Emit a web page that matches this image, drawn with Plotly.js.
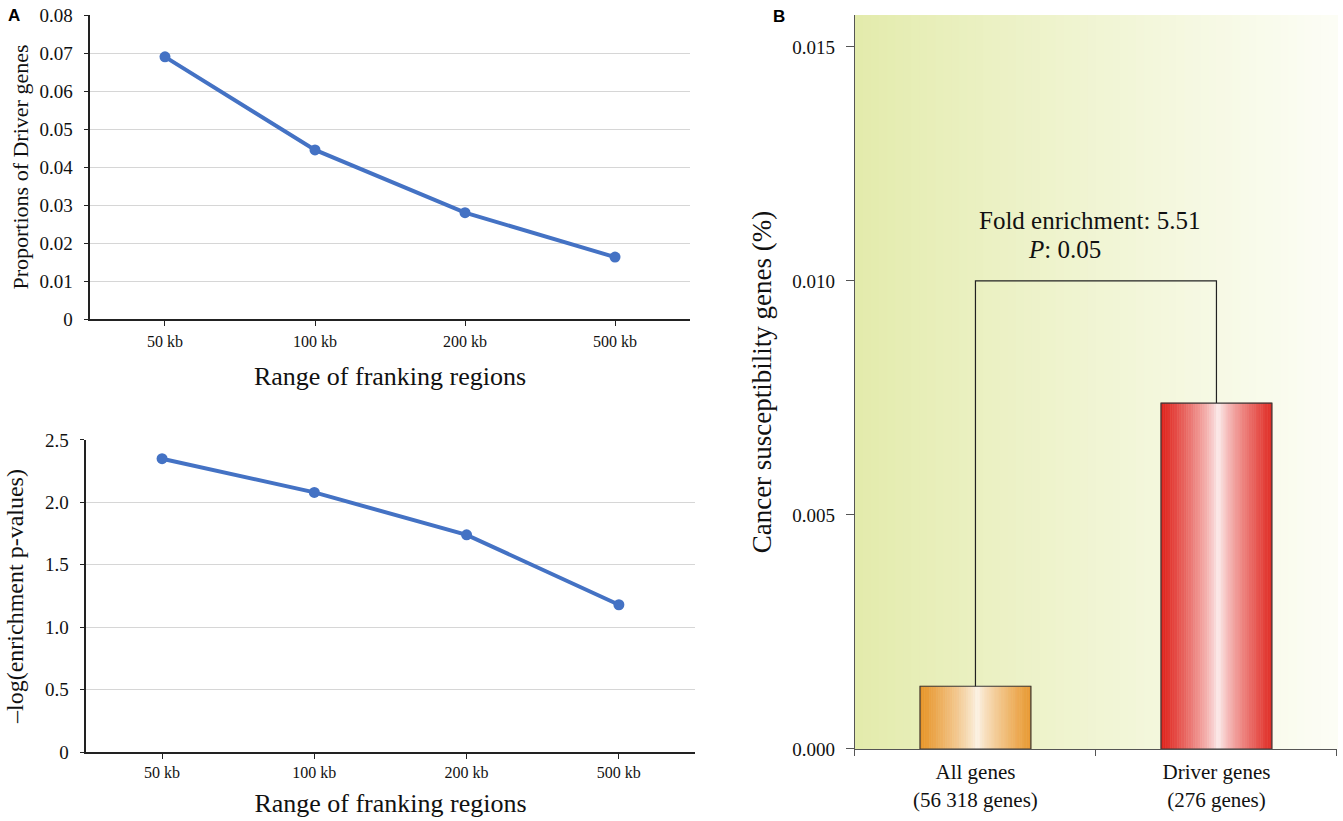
<!DOCTYPE html>
<html>
<head>
<meta charset="utf-8">
<script src="https://cdn.plot.ly/plotly-3.0.1.min.js"></script>
<style>html,body{margin:0;padding:0;background:#fff;}#chart{width:1343px;height:821px;}</style>
</head>
<body>
<div id="chart"></div>
<script>
// ---- data ----
const flankRanges = ['50 kb', '100 kb', '200 kb', '500 kb'];
const driverProportions = [0.069, 0.0445, 0.028, 0.0163];
const negLogPValues = [2.35, 2.08, 1.74, 1.18];
const propTickVals = [0, 0.01, 0.02, 0.03, 0.04, 0.05, 0.06, 0.07, 0.08];
const propTickText = ['0', '0.01', '0.02', '0.03', '0.04', '0.05', '0.06', '0.07', '0.08'];
const pTickVals = [0, 0.5, 1.0, 1.5, 2.0, 2.5];
const pTickText = ['0', '0.5', '1.0', '1.5', '2.0', '2.5'];
const geneSets = ['All genes<br>(56 318 genes)', 'Driver genes<br>(276 genes)'];
const susceptibility = [0.00134, 0.00739];
const susTickVals = [0, 0.005, 0.010, 0.015];
const bracketLevel = 0.010;
const foldText = 'Fold enrichment: 5.51';
const pText = '<i>P</i>: 0.05';

// ---- styling helpers ----
const SERIF = '"Liberation Serif", "Times New Roman", serif';
const SANS = '"Liberation Sans", Arial, sans-serif';
const BLUE = '#4472c4';
function mix(c1, c2, t) {
  return 'rgb(' + c1.map((v, i) => Math.round(v + (c2[i] - v) * t)).join(',') + ')';
}
const barEdge = [[232, 150, 44], [224, 38, 31]];
const barCenter = [[253, 246, 236], [253, 242, 242]];
const N = 48, W = 0.46;

const traces = [];
traces.push({
  x: flankRanges, y: driverProportions, xaxis: 'x', yaxis: 'y', type: 'scatter', mode: 'lines+markers',
  line: {color: BLUE, width: 4}, marker: {color: BLUE, size: 11}, showlegend: false, hoverinfo: 'x+y'
});
traces.push({
  x: flankRanges, y: negLogPValues, xaxis: 'x2', yaxis: 'y2', type: 'scatter', mode: 'lines+markers',
  line: {color: BLUE, width: 4}, marker: {color: BLUE, size: 11}, showlegend: false, hoverinfo: 'x+y'
});
// gradient bars built from slices
geneSets.forEach((g, i) => {
  const xs = [], ys = [], ws = [], offs = [], cols = [];
  for (let k = 0; k < N; k++) {
    const pos = (k + 0.5) / N;
    const t = Math.min(1, Math.abs(pos - 0.52) / 0.5);
    const tt = Math.pow(t, 0.75);
    xs.push(g); ys.push(susceptibility[i]); ws.push(W / N); offs.push(-W / 2 + k * W / N);
    cols.push(mix(barCenter[i], barEdge[i], tt));
  }
  traces.push({
    x: xs, y: ys, width: ws, offset: offs, type: 'bar', xaxis: 'x3', yaxis: 'y3',
    marker: {color: cols, line: {color: cols, width: 0.6}}, showlegend: false, hoverinfo: 'skip'
  });
});
traces.push({
  x: geneSets, y: susceptibility, width: [W, W], type: 'bar', xaxis: 'x3', yaxis: 'y3',
  marker: {color: 'rgba(0,0,0,0)', line: {color: '#3a3a3a', width: 1.2}}, showlegend: false
});
traces.push({
  x: [geneSets[0], geneSets[0], geneSets[1], geneSets[1]],
  y: [susceptibility[0], bracketLevel, bracketLevel, susceptibility[1]],
  type: 'scatter', mode: 'lines', xaxis: 'x3', yaxis: 'y3',
  line: {color: '#222', width: 1.2}, showlegend: false, hoverinfo: 'skip'
});

// background gradient for panel B
const shapes = [];
const S = 60;
for (let s = 0; s < S; s++) {
  const t = s / (S - 1);
  shapes.push({
    type: 'rect', xref: 'x3 domain', yref: 'y3 domain', x0: s / S, x1: (s + 1) / S + 0.002, y0: 0, y1: 1,
    fillcolor: mix([227, 235, 172], [252, 253, 245], Math.pow(t, 0.9)), line: {width: 0}, layer: 'below'
  });
}

const layout = {
  width: 1343, height: 821, margin: {l: 0, r: 0, t: 0, b: 0},
  paper_bgcolor: '#fff', plot_bgcolor: 'rgba(0,0,0,0)', showlegend: false, barmode: 'overlay',
  font: {family: SERIF, color: '#111'},
  xaxis: {domain: [0.067, 0.5138], anchor: 'y', type: 'category', range: [-0.5, 3.5],
    showline: true, linecolor: '#222', linewidth: 1.5, ticks: 'outside', ticklen: 5, tickcolor: '#222',
    tickfont: {family: SERIF, size: 16}, showgrid: false, automargin: false, ticklabelstandoff: 2,
    title: {text: 'Range of franking regions', font: {family: SERIF, size: 26}, standoff: 18}},
  yaxis: {domain: [0.6114, 0.9817], anchor: 'x', range: [0, 0.08], tickvals: propTickVals, ticktext: propTickText,
    showline: true, linecolor: '#222', linewidth: 1.5, ticks: 'outside', ticklen: 4, tickcolor: '#222',
    gridcolor: '#d6d6d6', gridwidth: 1, zeroline: false, tickfont: {family: SERIF, size: 19},
    automargin: false, ticklabelstandoff: 8,
    title: {text: 'Proportions of Driver genes', font: {family: SERIF, size: 22}, standoff: 4}},
  xaxis2: {domain: [0.064, 0.5175], anchor: 'y2', type: 'category', range: [-0.5, 3.5],
    showline: true, linecolor: '#222', linewidth: 1.5, ticks: 'outside', ticklen: 5, tickcolor: '#222',
    tickfont: {family: SERIF, size: 16}, showgrid: false, automargin: false, ticklabelstandoff: 0,
    title: {text: 'Range of franking regions', font: {family: SERIF, size: 26}, standoff: 14}},
  yaxis2: {domain: [0.084, 0.4641], anchor: 'x2', range: [0, 2.5], tickvals: pTickVals, ticktext: pTickText,
    showline: true, linecolor: '#222', linewidth: 1.5, ticks: 'outside', ticklen: 4, tickcolor: '#222',
    gridcolor: '#d6d6d6', gridwidth: 1, zeroline: false, tickfont: {family: SERIF, size: 19},
    automargin: false, ticklabelstandoff: 8,
    title: {text: '\u2013log(enrichment p-values)', font: {family: SERIF, size: 24}, standoff: 14}},
  xaxis3: {domain: [0.6366, 0.9955], anchor: 'y3', type: 'category', range: [-0.5, 1.5],
    showline: true, linecolor: '#555', linewidth: 1.2, ticks: 'outside', ticklen: 6, tickcolor: '#555',
    tickson: 'boundaries', showgrid: false, tickfont: {family: SERIF, size: 21}, automargin: false,
    ticklabelstandoff: 4},
  yaxis3: {domain: [0.0877, 0.9817], anchor: 'x3', range: [0, 0.01568], tickvals: susTickVals,
    tickformat: '.3f', showline: true, linecolor: '#555', linewidth: 1.2, ticks: 'outside', ticklen: 8,
    tickcolor: '#555', showgrid: false, zeroline: false, tickfont: {family: SERIF, size: 19},
    automargin: false, ticklabelstandoff: 7,
    title: {text: 'Cancer susceptibility genes (%)', font: {family: SERIF, size: 27}, standoff: 12}},
  shapes: shapes,
  annotations: [
    {text: '<b>A</b>', x: 0.0104, y: 0.9817, xref: 'paper', yref: 'paper', showarrow: false,
      xanchor: 'center', yanchor: 'middle', font: {family: SANS, size: 17, color: '#000'}},
    {text: '<b>B</b>', x: 0.58, y: 0.9793, xref: 'paper', yref: 'paper', showarrow: false,
      xanchor: 'center', yanchor: 'middle', font: {family: SANS, size: 17, color: '#000'}},
    {text: foldText, x: 0.8116, y: 0.732, xref: 'paper', yref: 'paper', showarrow: false,
      xanchor: 'center', yanchor: 'middle', font: {family: SERIF, size: 25, color: '#111'}},
    {text: pText, x: 0.793, y: 0.6955, xref: 'paper', yref: 'paper', showarrow: false,
      xanchor: 'center', yanchor: 'middle', font: {family: SERIF, size: 25, color: '#111'}}
  ]
};
Plotly.newPlot('chart', traces, layout, {displayModeBar: false, staticPlot: true});
</script>
</body>
</html>
